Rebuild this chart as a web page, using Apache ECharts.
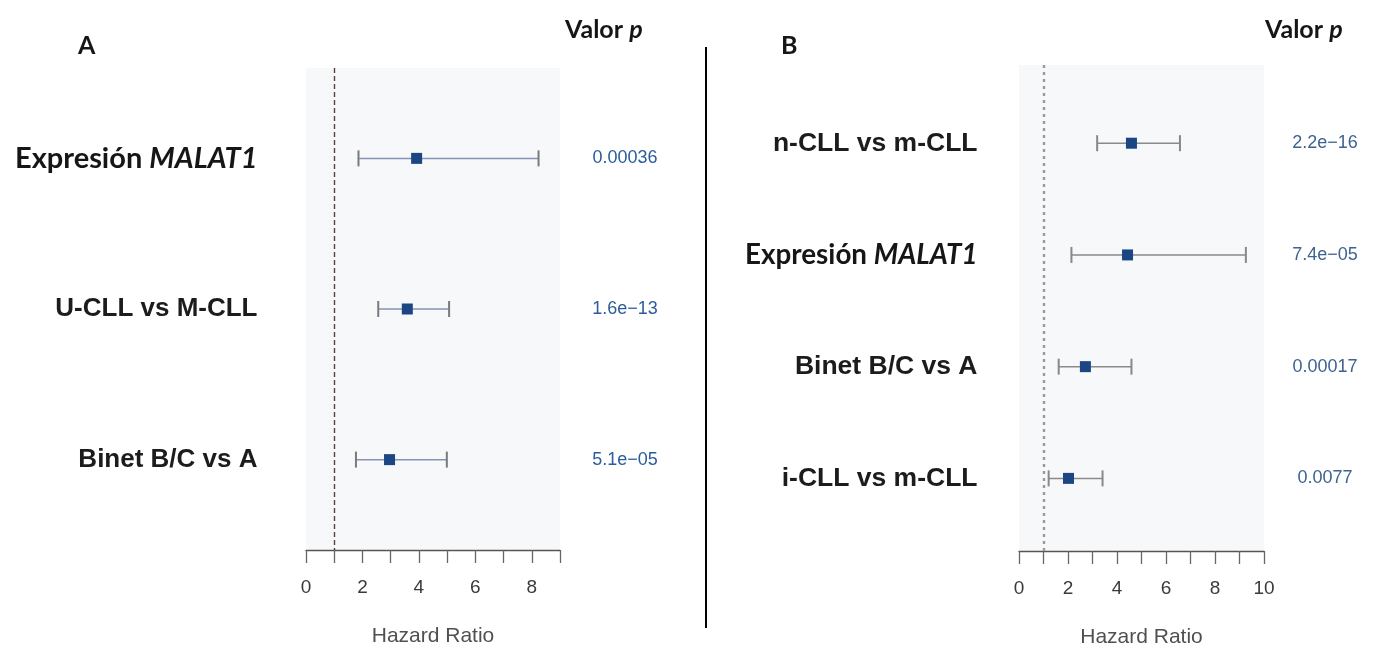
<!DOCTYPE html>
<html>
<head>
<meta charset="utf-8">
<script src="https://cdn.jsdelivr.net/npm/echarts@6/dist/echarts.min.js"></script>
<style>
html,body{margin:0;padding:0;background:#fff;}
#chart{width:1378px;height:653px;}
</style>
</head>
<body>
<div id="chart"></div>
<script>
// Panel A data
const A_labels = ['Expresión MALAT1', 'U-CLL vs M-CLL', 'Binet B/C vs A'];
const A_hr = [3.92, 3.59, 2.96];
const A_lo = [1.86, 2.56, 1.77];
const A_hi = [8.24, 5.07, 4.99];
const A_p = ['0.00036', '1.6e\u221213', '5.1e\u221205'];
const A_axisMax = 9;

// Panel B data
const B_labels = ['n-CLL vs m-CLL', 'Expresión MALAT1', 'Binet B/C vs A', 'i-CLL vs m-CLL'];
const B_hr = [4.59, 4.43, 2.71, 2.02];
const B_lo = [3.19, 2.14, 1.62, 1.21];
const B_hi = [6.57, 9.26, 4.59, 3.41];
const B_p = ['2.2e\u221216', '7.4e\u221205', '0.00017', '0.0077'];
const B_axisMax = 10;

const refLine = 1;
const tickStep = 1;
const labelStep = 2;

const chart = echarts.init(document.getElementById('chart'), null, {renderer: 'canvas'});

function errorData(lo, hr, hi) {
  return hr.map((v, i) => [lo[i], v, hi[i], i + 1]);
}
function makeRender(lineColor, capColor) {
  return function (params, api) {
    const row = api.value(3);
    const pL = api.coord([api.value(0), row]);
    const pR = api.coord([api.value(2), row]);
    const pM = api.coord([api.value(1), row]);
    const cap = 8, sq = 11;
    return {
      type: 'group',
      children: [
        {type: 'line', shape: {x1: pL[0], y1: pL[1], x2: pR[0], y2: pR[1]}, style: {stroke: lineColor, lineWidth: 1.5}},
        {type: 'line', shape: {x1: pL[0], y1: pL[1] - cap, x2: pL[0], y2: pL[1] + cap}, style: {stroke: capColor, lineWidth: 2}},
        {type: 'line', shape: {x1: pR[0], y1: pR[1] - cap, x2: pR[0], y2: pR[1] + cap}, style: {stroke: capColor, lineWidth: 2}},
        {type: 'rect', shape: {x: pM[0] - sq / 2, y: pM[1] - sq / 2, width: sq, height: sq}, style: {fill: '#1b4583'}}
      ]
    };
  };
}
function labelFormatter(p) {
  const name = p.name;
  if (name.indexOf('MALAT1') >= 0) {
    const parts = name.split(' ');
    return '{n|' + parts[0] + ' }{i|' + parts[1] + '}';
  }
  return '{a|' + name + '}';
}
function richStyles(sizeN, sizeA) {
  return {
    n: {fontFamily: 'Lato', fontWeight: 'bold', fontSize: sizeN, color: '#161616'},
    i: {fontFamily: 'Lato', fontWeight: 'bold', fontStyle: 'italic', fontSize: sizeN, color: '#161616'},
    a: {fontFamily: 'Liberation Sans', fontWeight: 'bold', fontSize: sizeA, color: '#1c1c1c'}
  };
}
function xAxisCfg(gridIndex, max) {
  return {
    type: 'value', gridIndex: gridIndex, min: 0, max: max, interval: tickStep,
    splitLine: {show: false},
    axisLine: {lineStyle: {color: '#555', width: 1.3}},
    axisTick: {length: 13, lineStyle: {color: '#666', width: 1.3}},
    axisLabel: {
      margin: 28, fontSize: 19, color: '#3a3a3a', fontFamily: 'Liberation Sans',
      formatter: v => (v % labelStep === 0 ? String(v) : '')
    },
    name: 'Hazard Ratio', nameLocation: 'middle', nameGap: 76,
    nameTextStyle: {fontSize: 21, color: '#505050', fontFamily: 'Liberation Sans'}
  };
}
const hiddenItem = {color: 'rgba(0,0,0,0)', opacity: 1};

const option = {
  animation: false,
  backgroundColor: '#ffffff',
  title: [
    {text: 'A', left: 78, top: 33, padding: 0, textStyle: {fontFamily: 'Lato', fontWeight: 'bold', fontSize: 25, color: '#161616'}},
    {text: 'B', left: 781, top: 33, padding: 0, textStyle: {fontFamily: 'Lato', fontWeight: 'bold', fontSize: 25, color: '#161616'}},
    {text: '{a|Valor }{b|p}', left: 565, top: 17, padding: 0, textStyle: {rich: {
      a: {fontFamily: 'Lato', fontWeight: 'bold', fontSize: 25, color: '#161616'},
      b: {fontFamily: 'Lato', fontWeight: 'bold', fontStyle: 'italic', fontSize: 25, color: '#161616'}}}},
    {text: '{a|Valor }{b|p}', left: 1265, top: 17, padding: 0, textStyle: {rich: {
      a: {fontFamily: 'Lato', fontWeight: 'bold', fontSize: 25, color: '#161616'},
      b: {fontFamily: 'Lato', fontWeight: 'bold', fontStyle: 'italic', fontSize: 25, color: '#161616'}}}}
  ],
  graphic: [
    {type: 'line', shape: {x1: 706, y1: 47, x2: 706, y2: 628}, style: {stroke: '#000', lineWidth: 2}}
  ],
  grid: [
    {left: 306, right: 818, top: 68, bottom: 103, show: true, backgroundColor: '#f6f8fa', borderWidth: 0},
    {left: 1019, right: 114, top: 65, bottom: 100, show: true, backgroundColor: '#f6f8fa', borderWidth: 0}
  ],
  xAxis: [xAxisCfg(0, A_axisMax), xAxisCfg(1, B_axisMax)],
  yAxis: [
    {type: 'value', gridIndex: 0, min: 0.4, max: 3.6, inverse: true, show: false},
    {type: 'value', gridIndex: 1, min: 0.3, max: 4.65, inverse: true, show: false}
  ],
  series: [
    {
      type: 'custom', xAxisIndex: 0, yAxisIndex: 0, renderItem: makeRender('#8593b4', '#7a7a7a'),
      encode: {x: [0, 1, 2], y: 3}, data: errorData(A_lo, A_hr, A_hi), silent: true,
      markLine: {silent: true, symbol: 'none', label: {show: false},
        lineStyle: {color: '#5e3c3c', type: [5, 3], width: 1.4}, data: [{xAxis: refLine}]}
    },
    {
      type: 'custom', xAxisIndex: 1, yAxisIndex: 1, renderItem: makeRender('#8a8a8a', '#888'),
      encode: {x: [0, 1, 2], y: 3}, data: errorData(B_lo, B_hr, B_hi), silent: true,
      markLine: {silent: true, symbol: 'none', label: {show: false},
        lineStyle: {color: '#9a9a9a', type: [3, 4], width: 2.4}, data: [{xAxis: refLine}]}
    },
    // row labels A
    {
      type: 'scatter', xAxisIndex: 0, yAxisIndex: 0, symbolSize: 1, itemStyle: hiddenItem, silent: true,
      data: A_labels.map((n, i) => ({name: n, value: [0, i + 1]})),
      label: {show: true, position: 'left', distance: 48, color: '#161616', formatter: labelFormatter, rich: richStyles(29, 26)}
    },
    // row labels B
    {
      type: 'scatter', xAxisIndex: 1, yAxisIndex: 1, symbolSize: 1, itemStyle: hiddenItem, silent: true,
      data: B_labels.map((n, i) => ({name: n, value: [0, i + 1]})),
      label: {show: true, position: 'left', distance: 41, color: '#161616', formatter: labelFormatter, rich: richStyles(27.8, 26.5)}
    },
    // p-values A
    {
      type: 'scatter', xAxisIndex: 0, yAxisIndex: 0, symbolSize: 1, itemStyle: hiddenItem, silent: true,
      data: A_p.map((p, i) => ({name: p, value: [A_axisMax, i + 1]})),
      label: {show: true, position: 'inside', offset: [65, 0], formatter: p => p.name,
        fontFamily: 'Liberation Sans', fontSize: 18, color: '#2c5c9c'}
    },
    // p-values B
    {
      type: 'scatter', xAxisIndex: 1, yAxisIndex: 1, symbolSize: 1, itemStyle: hiddenItem, silent: true,
      data: B_p.map((p, i) => ({name: p, value: [B_axisMax, i + 1]})),
      label: {show: true, position: 'inside', offset: [61, 0], formatter: p => p.name,
        fontFamily: 'Liberation Sans', fontSize: 18, color: '#3e638f'}
    }
  ]
};
chart.setOption(option);
</script>
</body>
</html>
